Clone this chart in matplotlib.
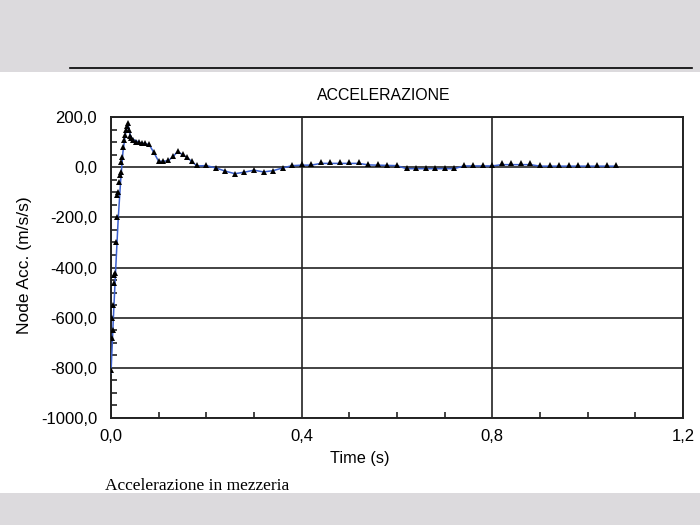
import matplotlib

matplotlib.use("Agg")
import matplotlib.pyplot as plt
from matplotlib.patches import Rectangle
from matplotlib.lines import Line2D
from matplotlib.ticker import FuncFormatter, MultipleLocator

# black series (triangle markers)
t_nodes = [0.000, 0.002, 0.003, 0.004, 0.005, 0.006, 0.007, 0.008, 0.010, 0.012,
           0.013, 0.014, 0.016, 0.018, 0.020, 0.022, 0.024, 0.026, 0.028, 0.030,
           0.032, 0.034, 0.036, 0.038, 0.040, 0.043, 0.047, 0.052, 0.058, 0.065,
           0.072, 0.080, 0.090, 0.100, 0.110, 0.120, 0.130, 0.140, 0.150, 0.160,
           0.170, 0.180, 0.200, 0.220, 0.240, 0.260, 0.280, 0.300, 0.320, 0.340,
           0.360, 0.380, 0.400, 0.420, 0.440, 0.460, 0.480, 0.500, 0.520, 0.540,
           0.560, 0.580, 0.600, 0.620, 0.640, 0.660, 0.680, 0.700, 0.720, 0.740,
           0.760, 0.780, 0.800, 0.820, 0.840, 0.860, 0.880, 0.900, 0.920, 0.940,
           0.960, 0.980, 1.000, 1.020, 1.040, 1.060]
acc_nodes = [-810, -680, -600, -650, -550, -430, -460, -420, -300, -200,
             -110, -100, -60, -30, -20, 20, 40, 80, 110, 130,
             150, 165, 175, 150, 125, 115, 108, 102, 100, 98,
             96, 93, 60, 25, 25, 28, 45, 65, 52, 40,
             25, 8, 10, -2, -16, -28, -20, -12, -20, -15,
             -2, 10, 12, 12, 22, 22, 22, 22, 20, 13,
             13, 10, 10, -3, -3, -3, -3, -3, -3, 10,
             10, 10, 10, 16, 16, 16, 16, 10, 10, 10,
             10, 10, 10, 10, 10, 10]

# blue series (plain line)
t_blue = [0.000, 0.005, 0.010, 0.015, 0.020, 0.025, 0.030, 0.036, 0.040, 0.045,
          0.060, 0.080, 0.090, 0.100, 0.120, 0.130, 0.140, 0.160, 0.180, 0.200,
          0.220, 0.240, 0.260, 0.280, 0.300, 0.320, 0.340, 0.360, 0.380, 0.400,
          0.420, 0.440, 0.520, 0.540, 0.600, 0.620, 0.720, 0.740, 0.800, 0.820,
          0.880, 0.900, 1.060]
acc_blue = [-820, -600, -400, -210, -60, 60, 130, 170, 130, 112,
            98, 90, 58, 23, 25, 42, 62, 38, 5, 6,
            -3, -16, -26, -20, -12, -19, -14, -3, 6, 8,
            8, 15, 15, 9, 6, -6, -6, 5, 5, 10,
            10, 4, 4]

title = "ACCELERAZIONE"
xlabel = "Time (s)"
ylabel = "Node Acc. (m/s/s)"
caption = "Accelerazione in mezzeria"

plt.rcParams["font.family"] = ["Liberation Sans", "DejaVu Sans"]

fig = plt.figure(figsize=(7, 5.25), dpi=100)
band = "#dcdadd"
fig.patches.append(Rectangle((0, 1 - 72 / 525), 1, 72 / 525, transform=fig.transFigure,
                             facecolor=band, edgecolor="none", zorder=0))
fig.patches.append(Rectangle((0, 0), 1, 32 / 525, transform=fig.transFigure,
                             facecolor=band, edgecolor="none", zorder=0))
fig.lines.append(Line2D([70 / 700, 692 / 700], [1 - 68 / 525] * 2, transform=fig.transFigure,
                        color="black", lw=1.2))

ax = fig.add_axes([111 / 700, 107 / 525, 572 / 700, 301 / 525])
ax.plot(t_blue, acc_blue, color="#3a5fcd", lw=1.1, zorder=3)
ax.plot(t_nodes, acc_nodes, color="black", lw=0, marker="^", markersize=4,
        markeredgewidth=0, zorder=4)

ax.set_xlim(0, 1.2)
ax.set_ylim(-1000, 200)
ax.xaxis.set_major_locator(MultipleLocator(0.4))
ax.xaxis.set_minor_locator(MultipleLocator(0.1))
ax.yaxis.set_major_locator(MultipleLocator(200))
ax.yaxis.set_minor_locator(MultipleLocator(50))
fmt = FuncFormatter(lambda v, _: f"{v:.1f}".replace(".", ","))
ax.xaxis.set_major_formatter(fmt)
ax.yaxis.set_major_formatter(fmt)
ax.tick_params(which="major", length=0, labelsize=12, colors="black")
ax.tick_params(axis="y", which="major", pad=10)
ax.tick_params(axis="x", which="major", pad=8)
ax.tick_params(which="minor", direction="in", length=4, width=1.2, color="#222222")
ax.tick_params(top=False, right=False, which="both")
ax.grid(True, which="major", color="#222222", lw=1.2)
for s in ax.spines.values():
    s.set_color("#222222")
    s.set_linewidth(1.4)

fig.text(384 / 700, 1 - 96 / 525, title, ha="center", va="center", fontsize=11.4)
fig.text(360 / 700, 1 - 459 / 525, xlabel, ha="center", va="center", fontsize=11.7)
fig.text(25 / 700, 1 - 265 / 525, ylabel, ha="center", va="center", fontsize=12.5,
         rotation=90)
fig.text(105 / 700, 1 - 486 / 525, caption, ha="left", va="center", fontsize=12.5,
         family="Liberation Serif")

fig.savefig("out.png", dpi=100)
